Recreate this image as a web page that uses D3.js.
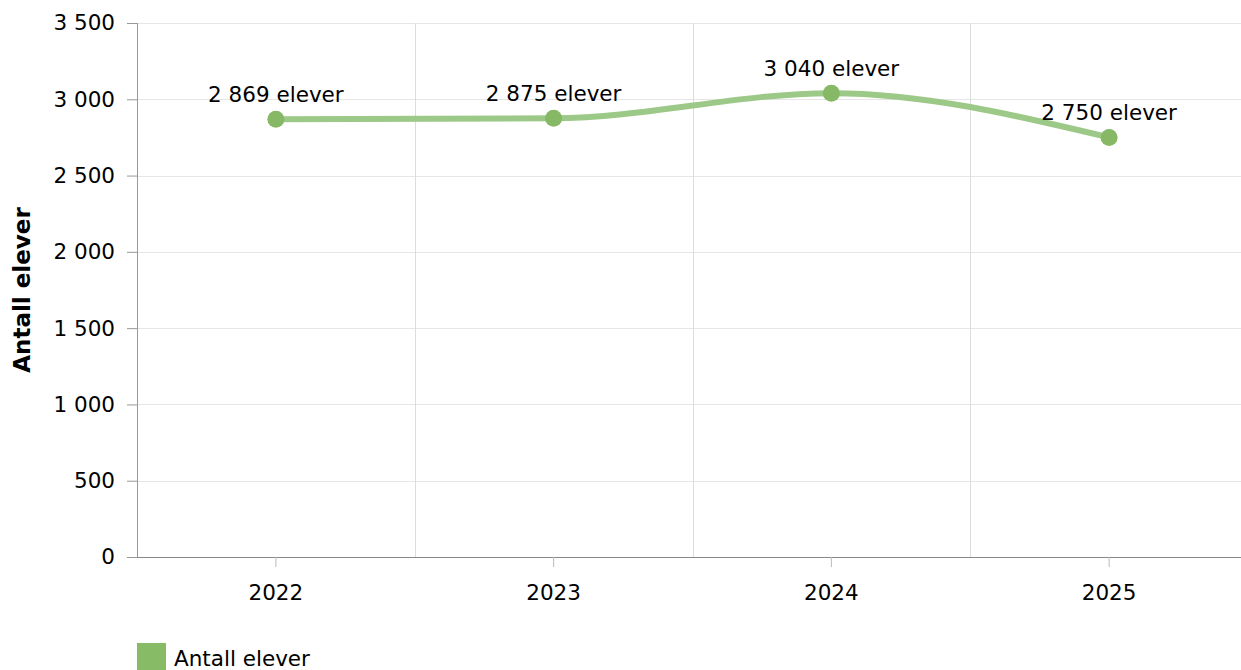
<!DOCTYPE html>
<html lang="no">
<head>
<meta charset="UTF-8" />
<title>Antall elever</title>
<script src="https://cdn.jsdelivr.net/npm/d3@7"></script>
<style>
  html, body { margin: 0; padding: 0; background: #fff; }
  body { font-family: "DejaVu Sans", Verdana, sans-serif; }
  .grid line { stroke: #e6e6e6; }
  .vgrid line { stroke: #dcdcdc; }
  text { fill: #000; }
</style>
</head>
<body>
<svg id="chart" width="1241" height="670"></svg>
<script>
// data
const years = ["2022", "2023", "2024", "2025"];
const students = [2869, 2875, 3040, 2750];
const yTicks = [0, 500, 1000, 1500, 2000, 2500, 3000, 3500];
const seriesName = "Antall elever";

const svg = d3.select("#chart");
const margin = {top: 23, left: 137, bottom: 113};
const plotW = 1111, plotH = 670 - margin.top - margin.bottom;
const fs = "21.5px";

const fmt = v => d3.format(",")(v).replace(/,/g, " ");

const x = d3.scaleBand().domain(years).range([0, plotW]);
const y = d3.scaleLinear().domain([0, 3500]).range([plotH, 0]);

const g = svg.append("g").attr("transform", `translate(${margin.left},${margin.top})`);

// horizontal grid
g.append("g").attr("class", "grid")
  .selectAll("line").data(yTicks).enter().append("line")
  .attr("x1", 0).attr("x2", plotW)
  .attr("y1", d => Math.round(y(d)) + 0.5).attr("y2", d => Math.round(y(d)) + 0.5);

// vertical grid at band edges
g.append("g").attr("class", "vgrid")
  .selectAll("line").data(years.slice(1)).enter().append("line")
  .attr("x1", d => Math.round(x(d)) + 0.5).attr("x2", d => Math.round(x(d)) + 0.5)
  .attr("y1", 0).attr("y2", plotH);

// y axis
const yAxis = g.append("g")
  .call(d3.axisLeft(y).tickValues(yTicks).tickFormat(fmt).tickSize(10).tickPadding(12));
yAxis.attr("font-size", null).attr("font-family", null);
yAxis.select(".domain").attr("stroke", "#999").attr("d", `M0.5,0V${plotH}`);
yAxis.selectAll(".tick line").attr("stroke", "#999");
yAxis.selectAll("text").style("font-size", fs).attr("fill", "#000");

// x axis
const xAxis = g.append("g").attr("transform", `translate(0,${plotH})`)
  .call(d3.axisBottom(x).tickSize(10).tickPadding(18));
xAxis.attr("font-size", null).attr("font-family", null);
xAxis.select(".domain").attr("stroke", "#888").attr("d", `M0,0.5H${plotW}`);
xAxis.selectAll(".tick line").attr("stroke", "#bbb");
xAxis.selectAll("text").style("font-size", fs).attr("fill", "#000");

// y title
svg.append("text")
  .attr("transform", `translate(30,${margin.top + plotH / 2}) rotate(-90)`)
  .attr("text-anchor", "middle")
  .style("font-size", "23px").style("font-weight", "bold")
  .text(seriesName);

// line
const pts = years.map((yr, i) => ({year: yr, value: students[i]}));
const cx = d => x(d.year) + x.bandwidth() / 2;

g.append("path")
  .datum(pts)
  .attr("fill", "none")
  .attr("stroke", "#9cc987")
  .attr("stroke-width", 6)
  .attr("stroke-linecap", "round")
  .attr("d", d3.line().x(cx).y(d => y(d.value)).curve(d3.curveMonotoneX));

g.selectAll("circle.pt").data(pts).enter().append("circle")
  .attr("class", "pt")
  .attr("cx", cx).attr("cy", d => y(d.value))
  .attr("r", 8.5).attr("fill", "#86b865");

g.selectAll("text.lbl").data(pts).enter().append("text")
  .attr("class", "lbl")
  .attr("x", cx).attr("y", d => y(d.value) - 17)
  .attr("text-anchor", "middle")
  .style("font-size", fs)
  .text(d => fmt(d.value) + " elever");

// legend
const legend = svg.append("g").attr("transform", "translate(137,643)");
legend.append("rect").attr("width", 29).attr("height", 29).attr("fill", "#87bb66");
legend.append("text").attr("x", 37).attr("y", 23)
  .style("font-size", fs).text(seriesName);
</script>
</body>
</html>
